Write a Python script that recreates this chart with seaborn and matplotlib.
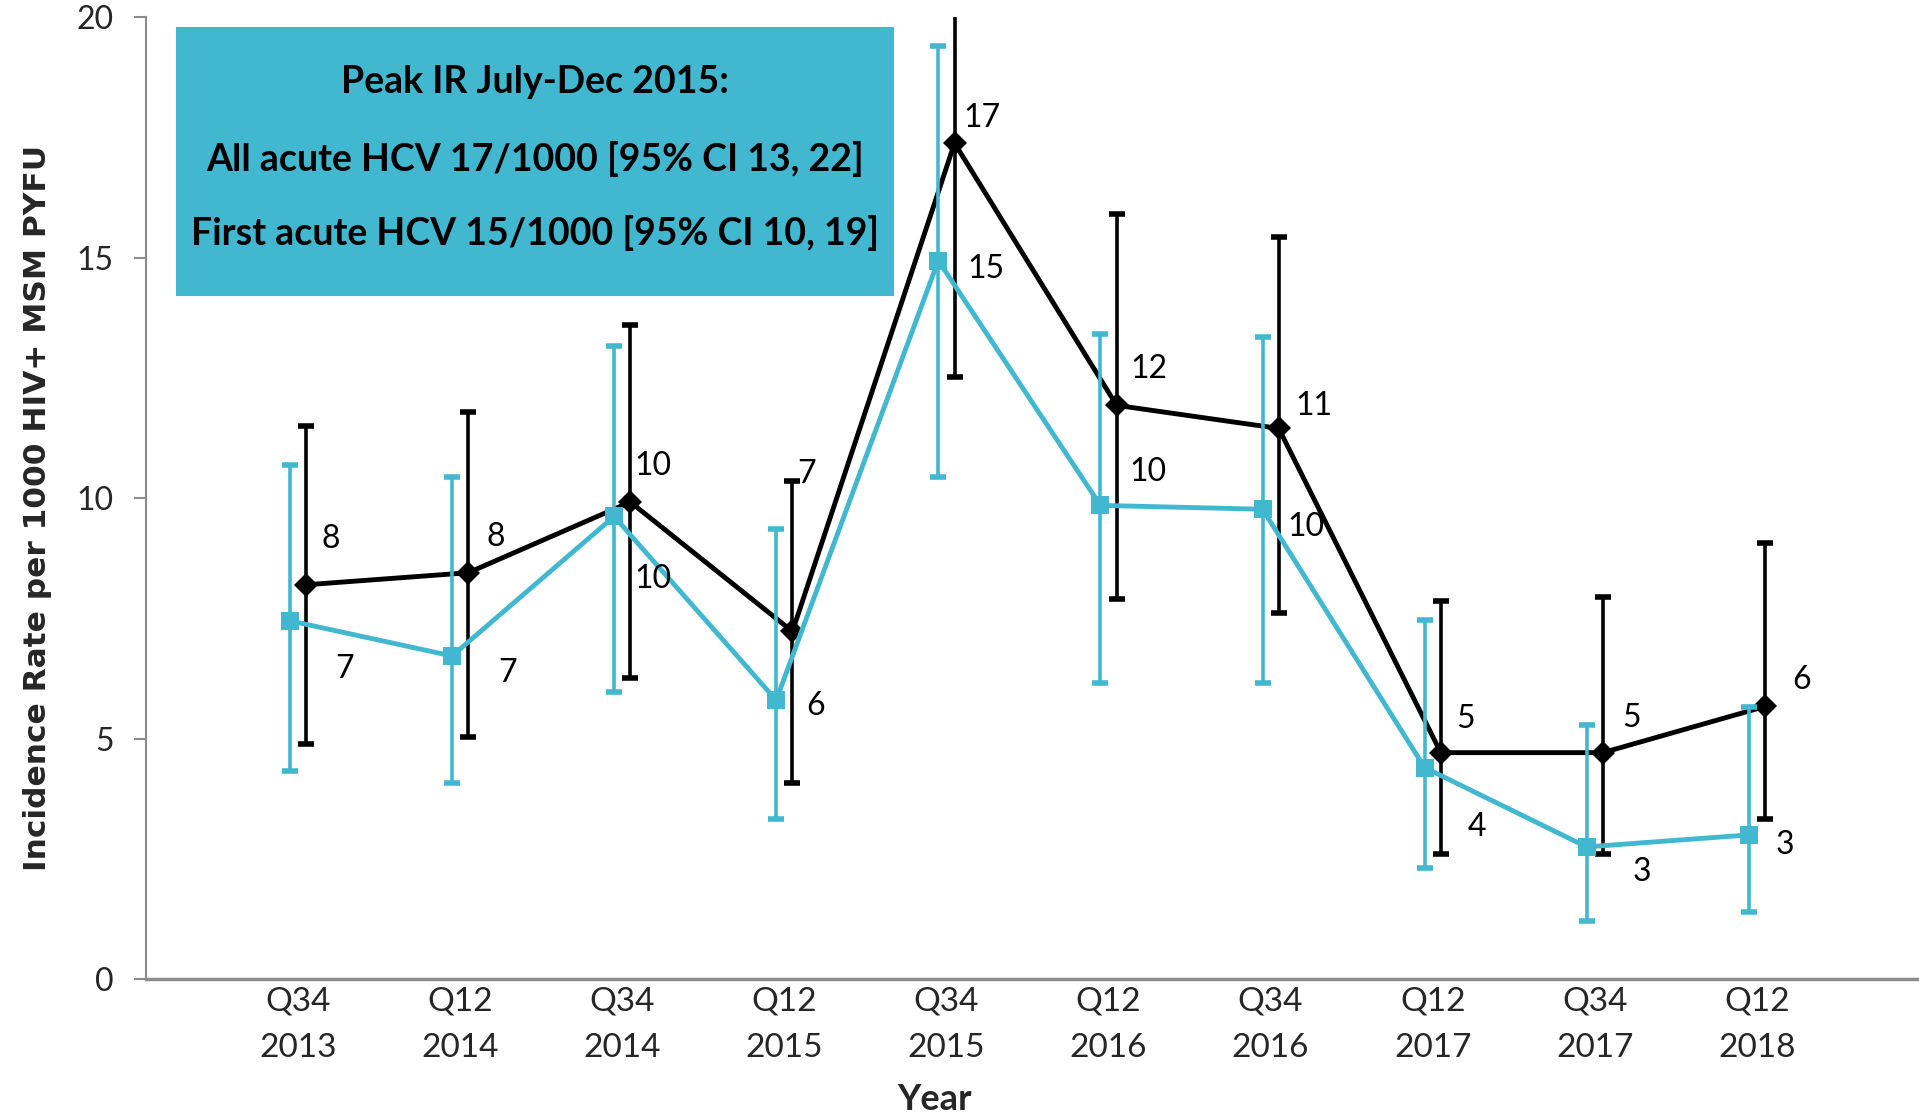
import numpy as np
import pandas as pd
import matplotlib
matplotlib.use("Agg")
import matplotlib.pyplot as plt
import seaborn as sns
from matplotlib.patches import Rectangle

# ---- colours ----
COLOR_BLACK = '#000000'
COLOR_CYAN = '#41B8D0'
COLOR_AXIS = '#8C8C8C'

# ---- data ----
periods = ['Q34\n2013', 'Q12\n2014', 'Q34\n2014', 'Q12\n2015', 'Q34\n2015',
           'Q12\n2016', 'Q34\n2016', 'Q12\n2017', 'Q34\n2017', 'Q12\n2018']

all_rate = [8.2, 8.45, 9.92, 7.23, 17.38, 11.93, 11.45, 4.71, 4.71, 5.67]
all_low = [4.89, 5.04, 6.26, 4.07, 12.52, 7.91, 7.61, 2.6, 2.6, 3.33]
all_high = [11.5, 11.8, 13.6, 10.36, 22.0, 15.9, 15.42, 7.86, 7.94, 9.06]

first_rate = [7.45, 6.72, 9.62, 5.8, 14.94, 9.85, 9.77, 4.4, 2.75, 3.0]
first_low = [4.33, 4.07, 5.98, 3.33, 10.43, 6.16, 6.16, 2.32, 1.2, 1.4]
first_high = [10.69, 10.43, 13.16, 9.36, 19.39, 13.41, 13.36, 7.46, 5.29, 5.65]

box_lines = ['Peak IR July-Dec 2015:',
             'All acute HCV 17/1000 [95% CI 13, 22]',
             'First acute HCV 15/1000 [95% CI 10, 19]']

# label offsets (points) for the value labels
all_offsets = [(18, 33), (20, 26), (16, 26), (10, 113), (20, 18),
               (23, 26), (25, 16), (18, 24), (21, 25), (26, 19)]
first_offsets = [(39, -35), (40, -12), (28, -45), (28, -4), (34, -6),
                 (34, 24), (31, -13), (38, -43), (40, -18), (26, -7)]

# ---- style ----
sns.set_theme(style="white")
plt.rcParams['font.family'] = ['Lato', 'DejaVu Sans']

x_base = np.arange(len(periods))
shift = 0.05

df = pd.concat([
    pd.DataFrame({'pos': x_base + shift, 'rate': all_rate, 'series': 'All'}),
    pd.DataFrame({'pos': x_base - shift, 'rate': first_rate, 'series': 'First'}),
], ignore_index=True)

fig = plt.figure(figsize=(19.19, 11.2), dpi=100)
ax = fig.add_axes([0.0759, 0.1257, 0.9241, 0.859])

# error bars
ax.errorbar(x_base + shift, all_rate,
            yerr=[np.array(all_rate) - np.array(all_low), np.array(all_high) - np.array(all_rate)],
            fmt='none', ecolor=COLOR_BLACK, elinewidth=2.6, capsize=6, capthick=4, zorder=2)
ax.errorbar(x_base - shift, first_rate,
            yerr=[np.array(first_rate) - np.array(first_low), np.array(first_high) - np.array(first_rate)],
            fmt='none', ecolor=COLOR_CYAN, elinewidth=2.6, capsize=6, capthick=4, zorder=4)

sns.lineplot(data=df[df.series == 'All'], x='pos', y='rate', color=COLOR_BLACK,
             marker='D', markersize=12, markeredgewidth=0, linewidth=3.5,
             ax=ax, zorder=3, legend=False)
sns.lineplot(data=df[df.series == 'First'], x='pos', y='rate', color=COLOR_CYAN,
             marker='s', markersize=13, markeredgewidth=0, linewidth=3.5,
             ax=ax, zorder=5, legend=False)

# value labels
for xi, v, off in zip(x_base + shift, all_rate, all_offsets):
    ax.annotate(f"{v:.0f}", (xi, v), xytext=off, textcoords='offset points',
                ha='center', va='center', fontsize=23, color=COLOR_BLACK, zorder=6)
for xi, v, off in zip(x_base - shift, first_rate, first_offsets):
    ax.annotate(f"{v:.0f}", (xi, v), xytext=off, textcoords='offset points',
                ha='center', va='center', fontsize=23, color=COLOR_BLACK, zorder=6)

# axes
ax.set_xlim(-0.94, 10.0)
ax.set_ylim(0, 20)
ax.set_yticks([0, 5, 10, 15, 20])
ax.set_xticks(x_base)
ax.set_xticklabels(periods, fontsize=24, linespacing=1.7)
ax.set_xticks([-0.94] + list(x_base[1::2] + shift), minor=True)
ax.tick_params(axis='x', which='major', length=0, pad=5)
ax.tick_params(axis='x', which='minor', length=10, width=1.5, color=COLOR_AXIS, direction='out')
ax.tick_params(axis='y', which='major', length=9, width=1.5, color=COLOR_AXIS,
               direction='out', labelsize=23, pad=14, left=True)
for s in ['top', 'right']:
    ax.spines[s].set_visible(False)
ax.spines['left'].set_color(COLOR_AXIS)
ax.spines['left'].set_linewidth(1.5)
ax.spines['bottom'].set_color(COLOR_AXIS)
ax.spines['bottom'].set_linewidth(2.5)
ax.grid(False)

ax.set_ylabel('Incidence Rate per 1000 HIV+ MSM PYFU', fontsize=22.5, fontweight='bold',
              family=['DejaVu Sans'], labelpad=20)
ax.yaxis.set_label_coords(-0.053, 0.49)
ax.set_xlabel('Year', fontsize=26, fontweight='bold', va='top')
ax.xaxis.set_label_coords(0.4446, -0.108)

# annotation box
fig.patches.append(Rectangle((0.0917, 0.7357), 0.3742, 0.2402, transform=fig.transFigure,
                             facecolor=COLOR_CYAN, edgecolor='none', zorder=10))
for txt, yy in zip(box_lines, [0.9268, 0.858, 0.792]):
    fig.text(0.2788, yy, txt, ha='center', va='center', fontsize=27,
             fontweight='bold', color=COLOR_BLACK, zorder=11)

fig.savefig('out.png', dpi=100)
